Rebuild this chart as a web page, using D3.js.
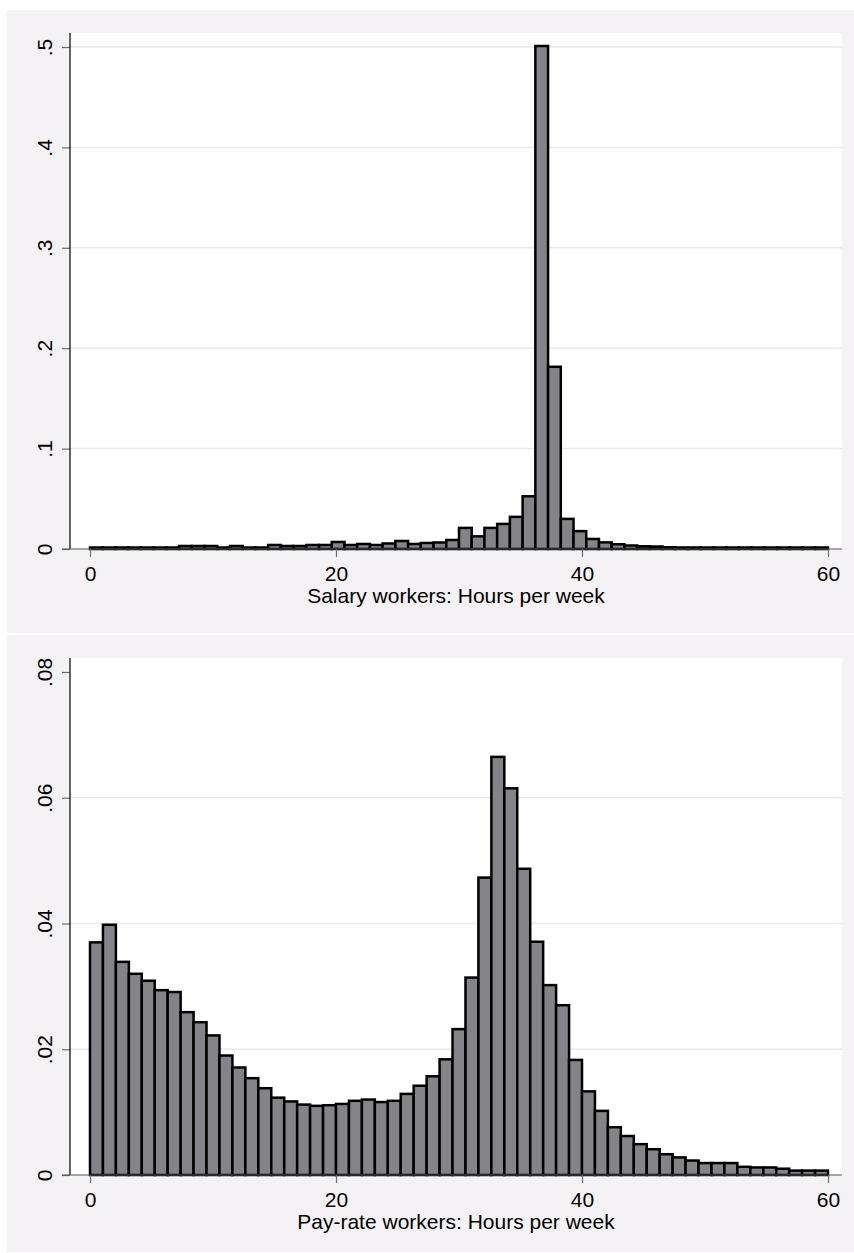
<!DOCTYPE html>
<html>
<head>
<meta charset="utf-8">
<script src="https://cdn.jsdelivr.net/npm/d3@7"></script>
<style>
  body { margin: 0; background: #ffffff; }
  svg { display: block; }
</style>
</head>
<body>
<div id="vis"></div>
<script>
// data: density per bin, hours range 0-60
const HOURS_RANGE = [0, 60];
const salaryDensity = [
  0.0015, 0.0015, 0.0015, 0.0015, 0.0015, 0.0015, 0.0015, 0.003, 0.003, 0.003,
  0.0015, 0.003, 0.0015, 0.0015, 0.004, 0.003, 0.003, 0.004, 0.004, 0.007,
  0.004, 0.005, 0.004, 0.0055, 0.008, 0.005, 0.006, 0.0065, 0.009, 0.021,
  0.0126, 0.021, 0.025, 0.032, 0.0525, 0.501, 0.1815, 0.030, 0.0178, 0.010,
  0.0066, 0.0047, 0.0035, 0.0027, 0.0025, 0.0017, 0.0015, 0.0015, 0.0015, 0.0015,
  0.0015, 0.0015, 0.0015, 0.0015, 0.0015, 0.0015, 0.0015, 0.0015
];
const payrateDensity = [
  0.0370, 0.0398, 0.0339, 0.0320, 0.0309, 0.0294, 0.0291, 0.0259, 0.0243, 0.0222,
  0.0190, 0.0171, 0.0154, 0.0138, 0.0123, 0.0117, 0.0112, 0.0110, 0.0111, 0.0113,
  0.0118, 0.0120, 0.0116, 0.0118, 0.0129, 0.0142, 0.0157, 0.0184, 0.0232, 0.0314,
  0.0473, 0.0665, 0.0615, 0.0487, 0.0371, 0.0302, 0.0270, 0.0183, 0.0133, 0.0102,
  0.0076, 0.0062, 0.0049, 0.0041, 0.0033, 0.0028, 0.0023, 0.0019, 0.0019, 0.0019,
  0.0013, 0.0012, 0.0012, 0.0010, 0.0007, 0.0007, 0.0007
];
const xTicks = [0, 20, 40, 60];
const salaryYTicks = [0, 0.1, 0.2, 0.3, 0.4, 0.5];
const salaryYLabels = ["0", ".1", ".2", ".3", ".4", ".5"];
const payrateYTicks = [0, 0.02, 0.04, 0.06, 0.08];
const payrateYLabels = ["0", ".02", ".04", ".06", ".08"];
const payrateGrid = [0.02, 0.04, 0.06];
const titles = ["Salary workers: Hours per week", "Pay-rate workers: Hours per week"];

// layout constants
const WIDTH = 854;
const HEIGHT = 1253;
const BG = "#f5f2f6";
const FONT = "'Liberation Sans', Arial, sans-serif";

const svg = d3.select("#vis").append("svg")
  .attr("width", WIDTH)
  .attr("height", HEIGHT);

const x = d3.scaleLinear().domain(HOURS_RANGE).range([90, 828]);

function build_panel(cfg) {
  const g = svg.append("g");

  // graph region background
  g.append("rect")
    .attr("x", 7).attr("y", cfg.bgTop)
    .attr("width", WIDTH - 7).attr("height", cfg.bgHeight)
    .attr("fill", BG);

  const y = d3.scaleLinear().domain(cfg.yDomain).range([cfg.axisY, cfg.yTopPx]);

  // plot region
  g.append("rect")
    .attr("x", 70).attr("y", cfg.plotTop)
    .attr("width", 842 - 70).attr("height", cfg.axisY - cfg.plotTop)
    .attr("fill", "#ffffff");

  // gridlines
  g.selectAll(".grid")
    .data(cfg.grid)
    .enter()
    .append("line")
      .attr("x1", 70).attr("x2", 842)
      .attr("y1", d => y(d)).attr("y2", d => y(d))
      .attr("stroke", "#ebe7ed")
      .attr("stroke-width", 1.5);

  // bars
  const n = cfg.data.length;
  const bw = (HOURS_RANGE[1] - HOURS_RANGE[0]) / n;
  g.selectAll(".bar")
    .data(cfg.data)
    .enter()
    .append("rect")
      .attr("x", (d, i) => x(HOURS_RANGE[0] + i * bw))
      .attr("width", (d, i) => x(HOURS_RANGE[0] + (i + 1) * bw) - x(HOURS_RANGE[0] + i * bw))
      .attr("y", d => y(d))
      .attr("height", d => y(0) - y(d))
      .attr("fill", "#848388")
      .attr("stroke", "#000000")
      .attr("stroke-width", 2.5);

  // y axis
  const yAxis = g.append("g")
    .attr("transform", "translate(70,0)")
    .call(d3.axisLeft(y)
      .tickValues(cfg.yTicks)
      .tickFormat((d, i) => cfg.yLabels[i])
      .tickSize(8)
      .tickSizeOuter(0));
  yAxis.select(".domain").remove();
  yAxis.selectAll(".tick line").attr("stroke", "#6e6e6e").attr("stroke-width", 1.2);
  yAxis.selectAll(".tick text")
    .attr("x", 0).attr("dy", 0)
    .attr("text-anchor", "middle")
    .attr("transform", "translate(-18,0) rotate(-90)")
    .style("font-family", FONT)
    .style("font-size", "21px")
    .attr("fill", "#000");
  g.append("line")
    .attr("x1", 70).attr("x2", 70)
    .attr("y1", cfg.plotTop).attr("y2", cfg.axisY)
    .attr("stroke", "#000").attr("stroke-width", 1.2);

  // x axis
  const xAxis = g.append("g")
    .attr("transform", "translate(0," + cfg.axisY + ")")
    .call(d3.axisBottom(x)
      .tickValues(xTicks)
      .tickFormat(d3.format("d"))
      .tickSize(8)
      .tickSizeOuter(0));
  xAxis.select(".domain").remove();
  xAxis.selectAll(".tick line").attr("stroke", "#6e6e6e").attr("stroke-width", 1.2);
  xAxis.selectAll(".tick text")
    .attr("y", 32).attr("dy", 0)
    .style("font-family", FONT)
    .style("font-size", "21px")
    .attr("fill", "#000");
  g.append("line")
    .attr("x1", 62).attr("x2", 842)
    .attr("y1", cfg.axisY).attr("y2", cfg.axisY)
    .attr("stroke", "#555").attr("stroke-width", 1.2);

  // axis title
  g.append("text")
    .attr("x", (70 + 842) / 2)
    .attr("y", cfg.axisY + 54)
    .attr("text-anchor", "middle")
    .style("font-family", FONT)
    .style("font-size", "21px")
    .attr("fill", "#000")
    .text(cfg.title);
}

build_panel({
  bgTop: 10, bgHeight: 623, plotTop: 33, axisY: 549, yTopPx: 47,
  yDomain: [0, 0.5], yTicks: salaryYTicks, yLabels: salaryYLabels,
  grid: salaryYTicks.filter(d => d > 0),
  data: salaryDensity, title: titles[0]
});

build_panel({
  bgTop: 635, bgHeight: 617, plotTop: 658, axisY: 1175, yTopPx: 672,
  yDomain: [0, 0.08], yTicks: payrateYTicks, yLabels: payrateYLabels,
  grid: payrateGrid,
  data: payrateDensity, title: titles[1]
});
</script>
</body>
</html>
